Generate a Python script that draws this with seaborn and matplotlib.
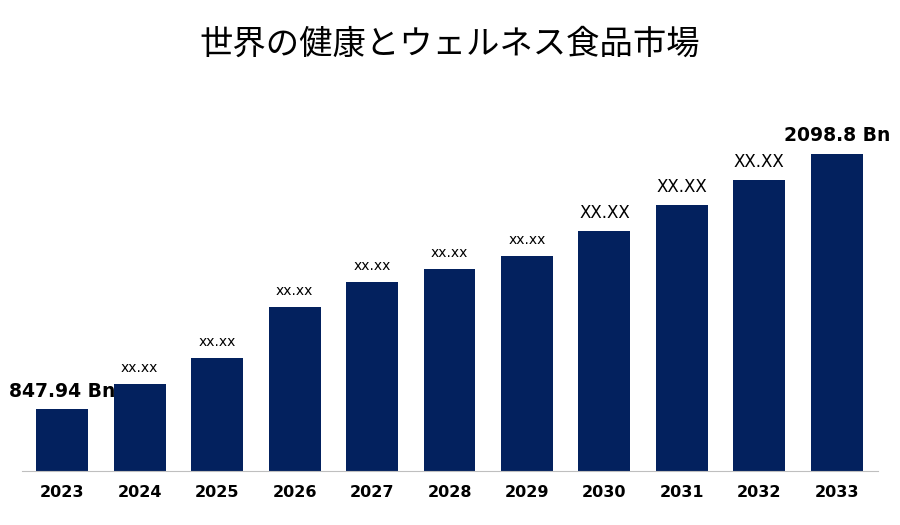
import matplotlib
matplotlib.use("Agg")
import matplotlib.pyplot as plt
import seaborn as sns
import pandas as pd

years = ["2023","2024","2025","2026","2027","2028","2029","2030","2031","2032","2033"]
values = [847.94, 970.5, 1098, 1348, 1471, 1535, 1598.5, 1721, 1849, 1971, 2098.8]
labels = ["847.94 Bn","xx.xx","xx.xx","xx.xx","xx.xx","xx.xx","xx.xx","XX.XX","XX.XX","XX.XX","2098.8 Bn"]
title = "世界の健康とウェルネス食品市場"

df = pd.DataFrame({"year": years, "value": values})
fig = plt.figure(figsize=(9, 5.25), dpi=100)
ax = fig.add_axes([0.0244, 0.103, 0.951, 0.7067])
sns.barplot(data=df, x="year", y="value", color="#03215E", width=0.67, saturation=1, ax=ax)
ax.set_ylim(544, 2364)
ax.set_xlim(-0.52, 10.53)
for s in ["top", "right", "left"]:
    ax.spines[s].set_visible(False)
ax.spines["bottom"].set_color("#BFBFBF")
ax.set_yticks([])
ax.set_xlabel(""); ax.set_ylabel("")
ax.tick_params(axis="x", length=0, pad=10)
for t in ax.get_xticklabels():
    t.set_fontweight("bold"); t.set_fontsize(11.5)
for i, (v, l) in enumerate(zip(values, labels)):
    if i in (0, 10):
        kw = dict(fontsize=13.5, fontweight="bold")
        if i == 0:
            ax.text(i, v + 40, l, ha="center", va="bottom", **kw)
            continue
    elif l == "XX.XX":
        kw = dict(fontsize=12)
    else:
        kw = dict(fontsize=10)
    ax.text(i, v + 45, l, ha="center", va="bottom", **kw)
fig.text(0.5, 0.915, title, ha="center", va="center", fontsize=24, fontfamily="Noto Sans CJK JP")
fig.savefig("out.png", dpi=100)
